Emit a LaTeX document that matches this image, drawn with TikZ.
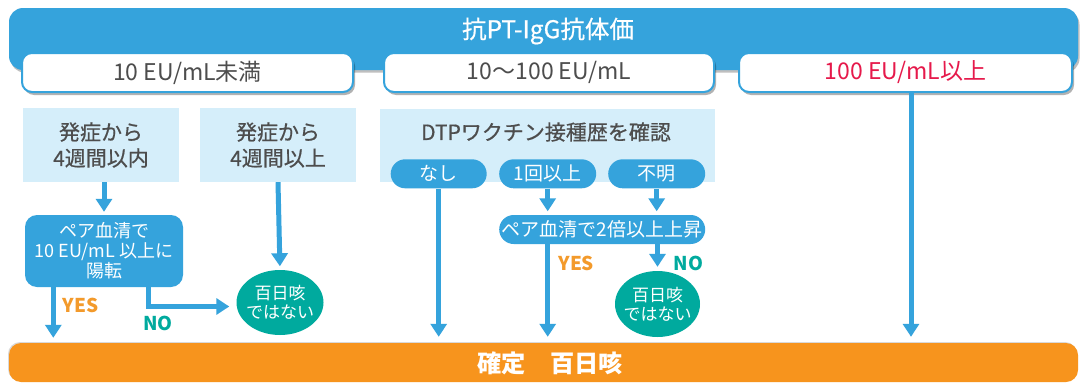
\documentclass[tikz,border=0pt]{standalone}
\usepackage{fontspec}
\setmainfont{Noto Sans CJK JP}
\newfontfamily\medfont{Noto Sans CJK JP}[FakeBold=0.6]
\usetikzlibrary{arrows.meta,shadows,shapes.geometric,calc}
\definecolor{cblue}{HTML}{35A3DC}
\definecolor{cpanel}{HTML}{D5EEFA}
\definecolor{cgray}{HTML}{4D4D4D}
\definecolor{cred}{HTML}{E6194B}
\definecolor{cteal}{HTML}{00AA9E}
\definecolor{corange}{HTML}{F7941D}
\definecolor{cyes}{HTML}{F39A2B}
\newcommand\myfs[2]{\fontsize{#1}{#2}\selectfont}
\tikzset{
  topbar/.style={rectangle, fill=cblue, rounded corners=14pt, inner sep=0pt,
    drop shadow={shadow xshift=1.5pt, shadow yshift=-2.5pt, opacity=0.25, fill=black}},
  titletext/.style={text=white, font=\medfont\myfs{24.5}{28}, inner sep=0pt},
  rangebox/.style={rectangle, draw=cblue, line width=2pt, fill=white, rounded corners=10pt,
    minimum height=39pt, inner sep=0pt, font=\myfs{23}{27}, text=cgray,
    drop shadow={shadow xshift=2pt, shadow yshift=-3pt, opacity=0.3, fill=black}},
  panel/.style={rectangle, fill=cpanel, inner sep=0pt, font=\medfont\myfs{21}{26}, text=cgray, align=center},
  paneltext/.style={font=\medfont\myfs{21}{26}, text=cgray, inner sep=0pt},
  pill/.style={rectangle, fill=cblue, rounded corners=14.5pt, minimum height=29pt, inner sep=0pt,
    text=white, font=\myfs{19}{22}},
  bluebox/.style={rectangle, fill=cblue, rounded corners=12pt, inner sep=0pt, text=white,
    font=\myfs{18}{20}, align=center},
  noell/.style={ellipse, fill=cteal, inner sep=0pt},
  elltext/.style={text=white, font=\myfs{17}{19}, align=center, inner sep=0pt},
  arr/.style={draw=cblue, line width=5pt, -{Triangle[width=16pt,length=13pt]}},
  yeslab/.style={text=cyes, font=\myfs{19}{21}\bfseries, inner sep=0pt},
  nolab/.style={text=cteal, font=\myfs{19}{21}\bfseries, inner sep=0pt},
  finalbar/.style={rectangle, fill=corange, rounded corners=12pt, inner sep=0pt,
    drop shadow={shadow xshift=-1pt, shadow yshift=1pt, opacity=0.15, fill=black}},
  finaltext/.style={text=white, font=\myfs{24.2}{28}\bfseries, inner sep=0pt}
}
\begin{document}
\begin{tikzpicture}[x=1pt,y=-1pt]
\useasboundingbox[fill=white] (0,0) rectangle (1080,383);
% top bar
\node[topbar, minimum width=1069pt, minimum height=62pt] (top) at (543.5,39) {};
\node[titletext] (title) at (548,31) {抗PT-IgG抗体価};
% range boxes
\node[rangebox, minimum width=331pt] (b1) at (187.5,72.5) {10 EU/mL未満};
\node[rangebox, minimum width=330pt] (b2) at (549,72.5) {10〜100 EU/mL};
\node[rangebox, minimum width=333pt, text=cred] (b3) at (905.5,72.5) {100 EU/mL以上};
% panels
\node[panel, minimum width=156pt, minimum height=74pt] (pA) at (101,145) {発症から\\4週間以内};
\node[panel, minimum width=156pt, minimum height=74pt] (pB) at (278,145) {発症から\\4週間以上};
\node[panel, minimum width=335pt, minimum height=73pt] (pC) at (547.5,145.5) {};
\node[paneltext] (dtp) at (546,132) {DTPワクチン接種歴を確認};
% pills
\node[pill, minimum width=96pt] (nashi) at (438.7,173.8) {なし};
\node[pill, minimum width=97pt] (ikkai) at (547.7,173.8) {1回以上};
\node[pill, minimum width=97pt] (fumei) at (656.7,173.8) {不明};
\node[pill, minimum width=206pt] (pair2) at (602.2,229.5) {ペア血清で2倍以上上昇};
% left box
\node[bluebox, minimum width=158pt, minimum height=72pt] (pair1) at (104,251) {ペア血清で\\10 EU/mL 以上に\\陽転};
% ellipses
\node[noell, minimum width=87pt, minimum height=65pt,
  label={[elltext]center:百日咳\\ではない}] (no1) at (280,302.5) {};
\node[noell, minimum width=85pt, minimum height=66pt,
  label={[elltext]center:百日咳\\ではない}] (no2) at (657.5,304) {};
% final bar
\node[finalbar, minimum width=1069pt, minimum height=39pt] (final) at (543.5,362.5) {};
\node[finaltext] (finaltxt) at (550,363) {確定　百日咳};
% helper coordinates
\coordinate (yesx) at (53.3,0);
\coordinate (nox) at (148.3,0);
\coordinate (rx) at (911,0);
% connectors
\draw[arr, shorten >=3pt] (pA.south -| pair1.north) -- (pair1.north);
\draw[arr, shorten >=3.5pt] (pB.south) -- (no1.north);
\draw[arr, shorten >=5pt] (pair1.south -| yesx) -- (yesx |- final.north);
\draw[arr, shorten >=7pt] (pair1.south -| nox) |- ([yshift=-4pt]no1.west);
\draw[arr, shorten >=6pt] (nashi.south) -- (nashi.south |- final.north);
\draw[arr, shorten >=3.5pt] (ikkai.south) -- (ikkai.south |- pair2.north);
\draw[arr, shorten >=3.5pt] (fumei.south) -- (fumei.south |- pair2.north);
\draw[arr, shorten >=6pt] (pair2.south -| ikkai.south) -- (ikkai.south |- final.north);
\draw[arr, shorten >=4pt] (pair2.south -| no2.north) -- (no2.north);
\draw[arr, shorten >=6pt] (b3.south -| rx) -- (rx |- final.north);
% labels
\node[yeslab] (yes1) at (80.8,305.5) {YES};
\node[nolab] (nol1) at (158,323) {NO};
\node[yeslab] (yes2) at (576.3,263.7) {YES};
\node[nolab] (nol2) at (688.7,263.7) {NO};
\end{tikzpicture}
\end{document}
